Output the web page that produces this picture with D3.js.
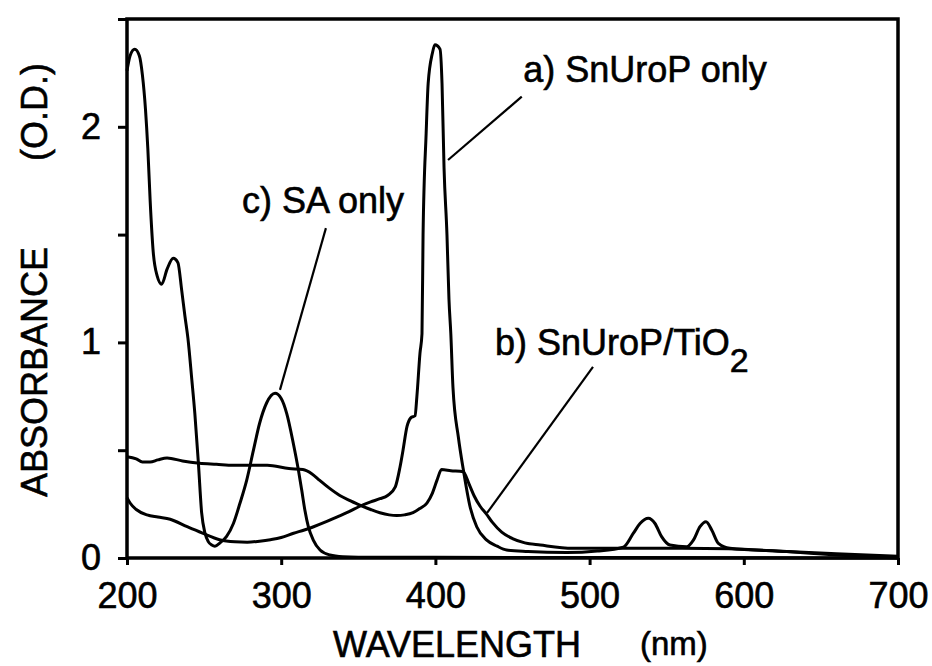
<!DOCTYPE html>
<html>
<head>
<meta charset="utf-8">
<script src="https://cdn.jsdelivr.net/npm/d3@7"></script>
<style>
  body { margin: 0; background: #fff; }
  svg text { font-family: "Liberation Sans", Arial, Helvetica, sans-serif; fill: #000; }
</style>
</head>
<body>
<svg width="932" height="666"></svg>
<script>
// Wavelength (nm) / absorbance (O.D.)
var saWave = [200, 202, 205, 208, 210, 212, 213.5, 215, 217, 219.5, 222.5, 226, 230, 233, 235.5, 237.6, 239.5, 242, 244, 246.3, 248.4, 250.6, 252.7, 255, 257, 260.3, 264.6, 269, 273.3, 277.6, 282, 286, 290.6, 296, 300, 303.6, 307.9, 311.1, 313.3, 315.4, 317.6, 320.8, 325.2, 331.6, 340, 350, 400, 500, 600, 700];
var saAbs = [2.26, 2.33, 2.36, 2.33, 2.24, 2.08, 1.9, 1.66, 1.42, 1.31, 1.27, 1.34, 1.39, 1.37, 1.24, 1.12, 1.02, 0.83, 0.67, 0.44, 0.21, 0.115, 0.076, 0.06, 0.055, 0.07, 0.1, 0.16, 0.255, 0.36, 0.5, 0.625, 0.72, 0.764, 0.74, 0.67, 0.53, 0.41, 0.315, 0.22, 0.145, 0.083, 0.037, 0.014, 0.006, 0.004, 0.003, 0.002, 0.001, 0];

var uroWave = [200, 202, 206, 213, 220, 228, 239, 249, 260, 270, 278, 286, 293, 300, 308, 315, 321, 328, 336, 344, 351, 358, 364, 369, 374, 377, 379, 381.6, 384, 386.8, 388, 390, 391.3, 392, 394, 395.3, 398, 399.7, 403, 404.3, 405.6, 407.5, 408.8, 410, 411.4, 414.9, 418.1, 422.4, 426.8, 433.3, 440, 446.2, 460, 485, 505, 521.9, 528.4, 532.7, 538.1, 542.4, 546.7, 552.1, 562.9, 567.3, 571.6, 575.5, 579.2, 583.5, 591, 627.8, 660, 692.6, 700];
var uroAbs = [0.28, 0.255, 0.225, 0.2, 0.19, 0.18, 0.145, 0.115, 0.085, 0.075, 0.073, 0.078, 0.085, 0.095, 0.115, 0.13, 0.145, 0.165, 0.19, 0.215, 0.24, 0.26, 0.275, 0.29, 0.33, 0.42, 0.5, 0.61, 0.65, 0.66, 0.75, 0.95, 1.04, 1.5, 1.97, 2.2, 2.34, 2.38, 2.36, 2.2, 1.81, 1.5, 1.2, 1.04, 0.79, 0.56, 0.41, 0.24, 0.145, 0.083, 0.055, 0.037, 0.03, 0.025, 0.032, 0.05, 0.115, 0.16, 0.184, 0.16, 0.099, 0.06, 0.052, 0.083, 0.145, 0.168, 0.13, 0.068, 0.045, 0.03, 0.014, 0.002, 0];

var tioWave = [200, 206, 210, 215, 220, 226, 236, 247, 258, 269, 280, 291, 305, 314, 320, 325, 331, 338, 345, 351, 358, 364, 370, 375, 380, 385.5, 390, 394.5, 398, 401, 404, 410, 418, 422, 425, 429, 433, 437, 443, 450, 458, 468, 489, 520, 560, 590, 628, 660, 700];
var tioAbs = [0.47, 0.46, 0.445, 0.445, 0.455, 0.464, 0.45, 0.44, 0.435, 0.43, 0.43, 0.43, 0.415, 0.41, 0.39, 0.36, 0.325, 0.29, 0.265, 0.245, 0.225, 0.21, 0.2, 0.197, 0.2, 0.21, 0.23, 0.255, 0.3, 0.36, 0.41, 0.405, 0.4, 0.34, 0.29, 0.24, 0.205, 0.165, 0.12, 0.09, 0.07, 0.06, 0.045, 0.045, 0.045, 0.043, 0.03, 0.02, 0.008];

var xTicks = [200, 300, 400, 500, 600, 700];
var yTicks = [0, 0.5, 1, 1.5, 2, 2.5];

// labels: text, anchor of the text, leader line from -> to (data units)
var labels = [
  { text: "a) SnUroP only", at: [457, 2.21], from: [456, 2.14], to: [408.2, 1.846] },
  { text: "c) SA only", at: [274.6, 1.6], from: [329, 1.53], to: [299.2, 0.78] },
  { text: "b) SnUroP/TiO", sub: "2", at: [438.7, 0.94], from: [502.2, 0.886], to: [433.5, 0.209] }
];

var svg = d3.select("svg");
var plotLeft = 127, plotRight = 898, plotTop = 19, plotBottom = 558;

var x = d3.scaleLinear().domain([200, 700]).range([plotLeft, plotRight]);
var y = d3.scaleLinear().domain([0, 2.5]).range([plotBottom, plotTop]);

svg.append("rect").attr("width", 932).attr("height", 666).attr("fill", "#fff");

// axes
var xAxis = svg.append("g")
  .attr("transform", "translate(0," + plotBottom + ")")
  .call(d3.axisBottom(x).tickValues(xTicks).tickSize(7).tickSizeOuter(0).tickPadding(17).tickFormat(d3.format("d")));

var yAxis = svg.append("g")
  .attr("transform", "translate(" + plotLeft + ",0)")
  .call(d3.axisLeft(y).tickValues(yTicks).tickSize(9).tickSizeOuter(0).tickPadding(17)
    .tickFormat(function (d) { return d % 1 === 0 ? d : ""; }));

[xAxis, yAxis].forEach(function (a) {
  a.select(".domain").remove();
  a.selectAll("line").attr("stroke", "#000").attr("stroke-width", 3);
  a.selectAll("text").attr("font-size", 36).attr("fill", "#000")
    .attr("font-family", '"Liberation Sans", Arial, sans-serif')
    .attr("stroke", "#000").attr("stroke-width", 0.6);
});

// frame
svg.append("rect")
  .attr("x", plotLeft).attr("y", plotTop)
  .attr("width", plotRight - plotLeft).attr("height", plotBottom - plotTop)
  .attr("fill", "none").attr("stroke", "#000").attr("stroke-width", 3.5);

// spectra
var line = d3.line()
  .x(function (d) { return x(d[0]); })
  .y(function (d) { return y(d[1]); })
  .curve(d3.curveMonotoneX);

[[saWave, saAbs], [uroWave, uroAbs], [tioWave, tioAbs]].forEach(function (s) {
  svg.append("path")
    .datum(d3.zip(s[0], s[1]))
    .attr("d", line)
    .attr("fill", "none")
    .attr("stroke", "#000")
    .attr("stroke-width", 3)
    .attr("stroke-linejoin", "round");
});

// labels and leader lines
labels.forEach(function (l) {
  svg.append("line")
    .attr("x1", x(l.from[0])).attr("y1", y(l.from[1]))
    .attr("x2", x(l.to[0])).attr("y2", y(l.to[1]))
    .attr("stroke", "#000").attr("stroke-width", 2.2);

  var t = svg.append("text")
    .attr("x", x(l.at[0])).attr("y", y(l.at[1]))
    .attr("font-size", 36)
    .attr("stroke", "#000").attr("stroke-width", 0.6)
    .text(l.text);
  if (l.sub) {
    t.append("tspan").attr("dy", 17).attr("font-size", 34).text(l.sub);
  }
});

// axis titles
svg.append("text")
  .attr("x", 333).attr("y", 657)
  .attr("font-size", 36).attr("stroke", "#000").attr("stroke-width", 0.6)
  .text("WAVELENGTH");
svg.append("text")
  .attr("x", 640).attr("y", 655)
  .attr("font-size", 33).attr("stroke", "#000").attr("stroke-width", 0.6)
  .text("(nm)");

svg.append("text")
  .attr("transform", "translate(47,497) rotate(-90)")
  .attr("font-size", 36).attr("stroke", "#000").attr("stroke-width", 0.6)
  .text("ABSORBANCE");
svg.append("text")
  .attr("transform", "translate(47,161) rotate(-90)")
  .attr("font-size", 36).attr("stroke", "#000").attr("stroke-width", 0.6)
  .text("(O.D.)");
</script>
</body>
</html>
